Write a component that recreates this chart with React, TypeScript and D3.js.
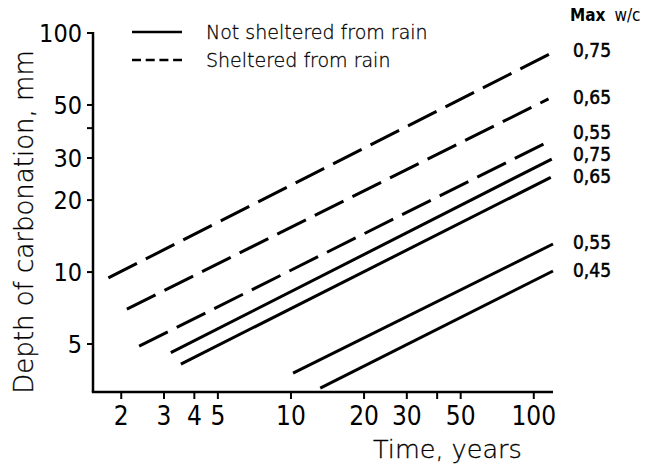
import React from "react";
import * as d3 from "d3";

// ---- data ----
const TIME_TICKS = [2, 3, 4, 5, 10, 20, 30, 40, 50, 100];
const TIME_TICK_LABELS = ["2", "3", "4", "5", "10", "20", "30", "", "50", "100"];
const DEPTH_TICKS = [5, 10, 20, 30, 40, 50, 100];
const DEPTH_TICK_LABELS = ["5", "10", "20", "30", "", "50", "100"];

// Sheltered from rain (dashed): [start time, end time], [start depth, end depth]
const SHELTERED_WC = ["0,75", "0,65", "0,55"];
const SHELTERED_TIME = [
  [1.77, 120],
  [2.11, 115],
  [2.37, 114],
];
const SHELTERED_DEPTH = [
  [9.45, 83],
  [7.0, 53],
  [4.9, 35],
];

// Not sheltered from rain (solid)
const EXPOSED_WC = ["0,75", "0,65", "0,55", "0,45"];
const EXPOSED_TIME = [
  [3.2, 118.6],
  [3.52, 117.5],
  [10.2, 120],
  [13.2, 120],
];
const EXPOSED_DEPTH = [
  [4.6, 29.7],
  [4.12, 24.9],
  [3.78, 13.1],
  [3.27, 10.1],
];

const LEGEND_LABELS = ["Not sheltered from rain", "Sheltered from rain"];

// ---- layout ----
const W = 649;
const H = 468;
const X0 = 93, X1 = 553, Y0 = 392, Y1 = 33;
const SHELTERED_LABEL_DY = [-2, -2, -10];
const EXPOSED_LABEL_DY = [-5, -1, -2, -1];
const FONT = "'DejaVu Sans', 'Noto Sans', sans-serif";

export default function App() {
  const x = d3.scaleLog().domain([1.53, 120]).range([X0, X1]);
  const y = d3.scaleLog().domain([3.15, 100]).range([Y0, Y1]);
  const line = d3
    .line<[number, number]>()
    .x((p) => x(p[0]))
    .y((p) => y(p[1]));

  const pts = (t: number[], d: number[]): [number, number][] => [
    [t[0], d[0]],
    [t[1], d[1]],
  ];

  const labelX = 573;
  const labelStyle = { fontStretch: "condensed" as const };

  return (
    <svg
      width={W}
      height={H}
      viewBox={`0 0 ${W} ${H}`}
      style={{ position: "absolute", left: 0, top: 0, background: "#fff" }}
      fontFamily={FONT}
    >
      <rect x={0} y={0} width={W} height={H} fill="#fff" />

      {/* axes */}
      <line x1={X0} y1={y(100) - 1} x2={X0} y2={Y0} stroke="#000" strokeWidth={2.5} />
      <line x1={X0 - 1.2} y1={Y0} x2={X1} y2={Y0} stroke="#000" strokeWidth={2.5} />

      {DEPTH_TICKS.map((v, i) => (
        <g key={"yt" + v}>
          <line x1={X0 - 6} x2={X0} y1={y(v)} y2={y(v)} stroke="#000" strokeWidth={2} />
          {DEPTH_TICK_LABELS[i] && (
            <text
              x={82}
              y={y(v) + 9}
              textAnchor="end"
              fontSize={25}
              style={labelStyle}
              fill="#000"
            >
              {DEPTH_TICK_LABELS[i]}
            </text>
          )}
        </g>
      ))}

      {TIME_TICKS.map((v, i) => (
        <g key={"xt" + v}>
          <line x1={x(v)} x2={x(v)} y1={Y0} y2={Y0 + 7} stroke="#000" strokeWidth={2} />
          {TIME_TICK_LABELS[i] && (
            <text
              x={x(v)}
              y={425}
              textAnchor="middle"
              fontSize={26}
              style={labelStyle}
              fill="#000"
            >
              {TIME_TICK_LABELS[i]}
            </text>
          )}
        </g>
      ))}

      {/* axis titles */}
      <text x={373} y={458} fontSize={25.5} fontWeight={300} fill="#000" stroke="#000" strokeWidth={0.3}>
        Time, years
      </text>
      <text
        transform={`translate(33, 222) rotate(-90)`}
        textAnchor="middle"
        fontSize={26}
        fontWeight={300}
        fill="#000"
        stroke="#000"
        strokeWidth={0.3}
      >
        Depth of carbonation, mm
      </text>

      {/* series */}
      {SHELTERED_WC.map((wc, i) => {
        const p = pts(SHELTERED_TIME[i], SHELTERED_DEPTH[i]);
        return (
          <g key={"s" + i}>
            <path
              d={line(p) || ""}
              fill="none"
              stroke="#000"
              strokeWidth={3}
              strokeDasharray="32 10"
            />
            <text
              x={labelX}
              y={y(p[1][1]) + SHELTERED_LABEL_DY[i] + 7}
              fontSize={19}
              style={labelStyle}
              fill="#000"
              stroke="#000"
              strokeWidth={0.5}
            >
              {wc}
            </text>
          </g>
        );
      })}
      {EXPOSED_WC.map((wc, i) => {
        const p = pts(EXPOSED_TIME[i], EXPOSED_DEPTH[i]);
        return (
          <g key={"e" + i}>
            <path d={line(p) || ""} fill="none" stroke="#000" strokeWidth={3} />
            <text
              x={labelX}
              y={y(p[1][1]) + EXPOSED_LABEL_DY[i] + 7}
              fontSize={19}
              style={labelStyle}
              fill="#000"
              stroke="#000"
              strokeWidth={0.5}
            >
              {wc}
            </text>
          </g>
        );
      })}

      {/* header */}
      <text x={570} y={21} fontSize={17} fill="#000" style={labelStyle}>
        <tspan fontWeight="bold">Max</tspan>
        <tspan dx={9}>w/c</tspan>
      </text>

      {/* legend */}
      <line x1={132} x2={182} y1={32} y2={32} stroke="#000" strokeWidth={2.5} />
      <line x1={132} x2={182} y1={60} y2={60} stroke="#000" strokeWidth={2.5} strokeDasharray="9 4.7" />
      <text x={206} y={39} fontSize={19} fontWeight={300} fill="#000" stroke="#000" strokeWidth={0.3}>
        {LEGEND_LABELS[0]}
      </text>
      <text x={206} y={67} fontSize={19} fontWeight={300} fill="#000" stroke="#000" strokeWidth={0.3}>
        {LEGEND_LABELS[1]}
      </text>
    </svg>
  );
}
